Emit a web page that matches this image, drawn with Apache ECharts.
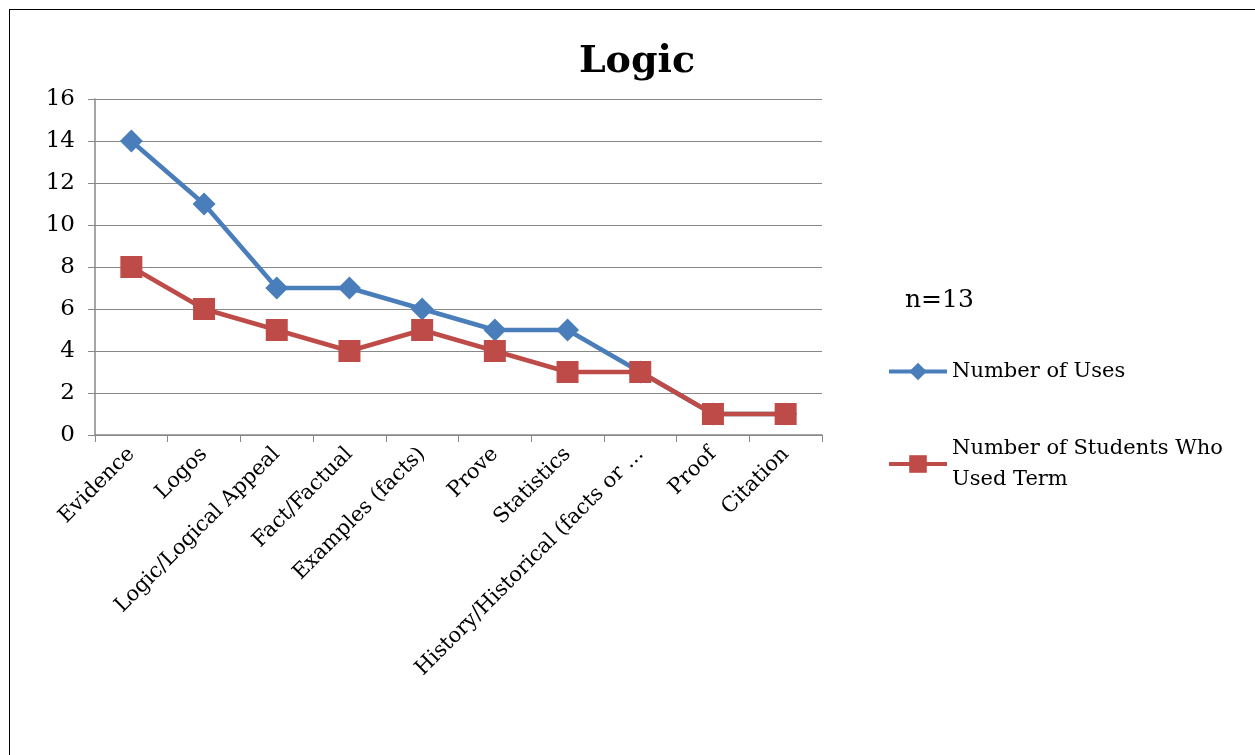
<!DOCTYPE html>
<html>
<head>
<meta charset="utf-8">
<script src="https://cdn.jsdelivr.net/npm/echarts@6/dist/echarts.min.js"></script>
<style>
html,body{margin:0;padding:0;background:#fff;overflow:hidden;}
#wrap{position:absolute;left:9px;top:9px;width:1250px;height:760px;border:1.5px solid #000;box-sizing:border-box;}
#c{position:absolute;left:0;top:0;width:1255px;height:755px;}
</style>
</head>
<body>
<div id="wrap"></div>
<div id="c"></div>
<script>
const categories = ["Evidence","Logos","Logic/Logical Appeal","Fact/Factual","Examples (facts)","Prove","Statistics","History/Historical (facts or ...","Proof","Citation"];
const numberOfUses = [14,11,7,7,6,5,5,3,1,1];
const numberOfStudents = [8,6,5,4,5,4,3,3,1,1];
const yTicks = [0,2,4,6,8,10,12,14,16];

const FONT = "DejaVu Serif";
const chart = echarts.init(document.getElementById('c'));
chart.setOption({
  animation:false,
  backgroundColor:'transparent',
  title:{text:'Logic',left:632,top:38,textAlign:'center',
    textStyle:{fontFamily:FONT,fontSize:38,fontWeight:'bold',color:'#000'}},
  grid:{left:95,right:433,top:99,bottom:320},
  legend:{
    orient:'vertical',left:882,top:351,itemGap:46,itemWidth:58,itemHeight:22,
    textStyle:{fontFamily:FONT,fontSize:21,color:'#000',lineHeight:31},
    lineStyle:{width:4},
    data:['Number of Uses','Number of Students Who\nUsed Term']
  },
  graphic:[{type:'text',left:905,top:288,style:{text:'n=13',font:'25px "DejaVu Serif"',fill:'#000'}}],
  xAxis:{type:'category',data:categories,boundaryGap:true,
    axisLine:{lineStyle:{color:'#888',width:1.5}},
    axisTick:{show:true,length:7,lineStyle:{color:'#888'},alignWithLabel:false},
    axisLabel:{rotate:45,fontFamily:FONT,fontSize:21,color:'#000',margin:16,interval:0}},
  yAxis:{type:'value',min:0,max:16,interval:2,
    axisLine:{show:true,lineStyle:{color:'#888',width:1.5}},
    axisTick:{show:true,length:7,lineStyle:{color:'#888'}},
    splitLine:{lineStyle:{color:'#888',width:1.2}},
    axisLabel:{fontFamily:FONT,fontSize:23,color:'#000',margin:20,
      formatter:v=>yTicks.includes(v)?String(v):''}},
  series:[
    {name:'Number of Uses',type:'line',data:numberOfUses,
      symbol:'path://M0,-1L1,0L0,1L-1,0Z',symbolSize:23,
      lineStyle:{color:'#4A7EBB',width:4.5},itemStyle:{color:'#4A7EBB'},z:2},
    {name:'Number of Students Who\nUsed Term',type:'line',data:numberOfStudents,
      symbol:'rect',symbolSize:22,
      lineStyle:{color:'#BE4B48',width:4.5},itemStyle:{color:'#BE4B48'},z:3}
  ]
});
</script>
</body>
</html>
